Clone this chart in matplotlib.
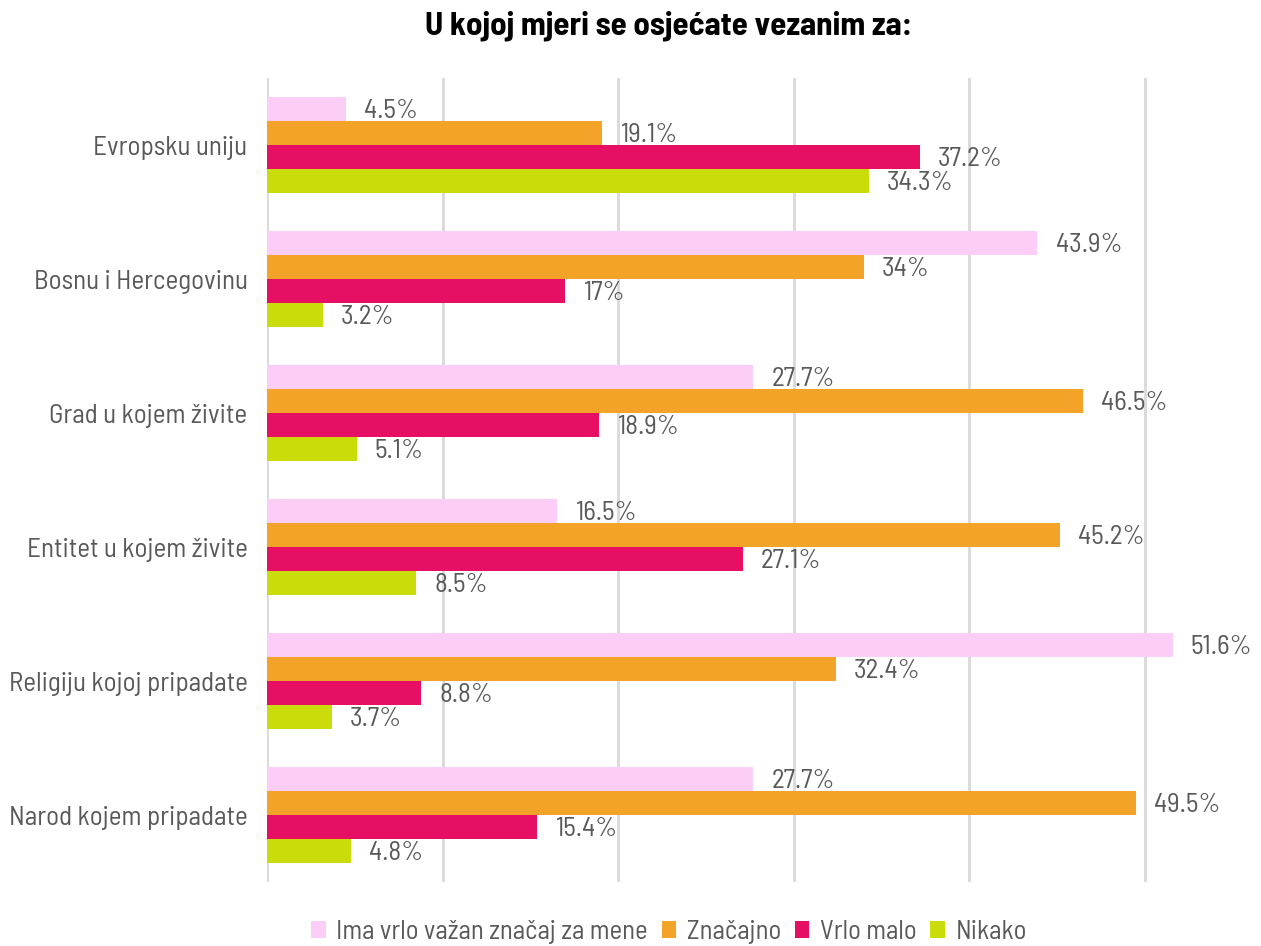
import matplotlib
matplotlib.use("Agg")
import matplotlib.pyplot as plt
import numpy as np
import logging
logging.getLogger('matplotlib.font_manager').setLevel(logging.ERROR)

FAM = ['Barlow Semi Condensed', 'Barlow', 'DejaVu Sans']
plt.rcParams['font.family'] = FAM

categories = ["Evropsku uniju", "Bosnu i Hercegovinu", "Grad u kojem živite",
              "Entitet u kojem živite", "Religiju kojoj pripadate", "Narod kojem pripadate"]
series = ["Ima vrlo važan značaj za mene", "Značajno", "Vrlo malo", "Nikako"]
ima = [4.5, 43.9, 27.7, 16.5, 51.6, 27.7]
znacajno = [19.1, 34.0, 46.5, 45.2, 32.4, 49.5]
vrlo_malo = [37.2, 17.0, 18.9, 27.1, 8.8, 15.4]
nikako = [34.3, 3.2, 5.1, 8.5, 3.7, 4.8]
labels = [["4.5%", "43.9%", "27.7%", "16.5%", "51.6%", "27.7%"],
          ["19.1%", "34%", "46.5%", "45.2%", "32.4%", "49.5%"],
          ["37.2%", "17%", "18.9%", "27.1%", "8.8%", "15.4%"],
          ["34.3%", "3.2%", "5.1%", "8.5%", "3.7%", "4.8%"]]
colors = ["#FCCDF7", "#F3A328", "#E60F63", "#CADD0A"]
values = [ima, znacajno, vrlo_malo, nikako]

fig = plt.figure(figsize=(12.61, 9.46), dpi=100)
ax = fig.add_axes([267/1261, 1-882/946, (1230-267)/1261, (882-78)/946])

n = len(categories)
h = 0.18
y0 = np.arange(n)
for i, (vals, col, lab) in enumerate(zip(values, colors, series)):
    ys = y0 - 1.5*h + i*h
    ax.barh(ys, vals, height=h, color=col, label=lab, zorder=2)
    for y, v, t in zip(ys, vals, labels[i]):
        ax.annotate(t, (v, y), xytext=(13, -1.5), textcoords="offset points",
                    va="center", ha="left", fontsize=19.5, color="#595959",
                    annotation_clip=False, zorder=3)

ax.set_ylim(n-0.5, -0.5)
ax.set_xlim(0, (1230-267)/17.55)
ax.set_xticks([0, 10, 20, 30, 40, 50])
ax.set_xticklabels([])
ax.tick_params(axis='x', length=0)
ax.tick_params(axis='y', length=0, pad=14, labelsize=19.5, labelcolor="#595959")
ax.set_yticks(y0)
ax.set_yticklabels(categories)
ax.grid(axis='x', color="#D9D9D9", linewidth=2, zorder=0)
for s in ax.spines.values():
    s.set_visible(False)

fig.text(669/1261, 1-26/946, "U kojoj mjeri se osjećate vezanim za:", ha="center", va="center",
         fontsize=23.7, fontweight="bold", color="black")

handles, labs = ax.get_legend_handles_labels()
fig.legend(handles, labs, loc="center", bbox_to_anchor=(669/1261, 1-932/946), ncol=4,
           frameon=False, fontsize=19.3, labelcolor="#595959", handlelength=0.55,
           handleheight=0.55, handletextpad=0.4, columnspacing=0.5)

fig.savefig("out.png", dpi=100)
